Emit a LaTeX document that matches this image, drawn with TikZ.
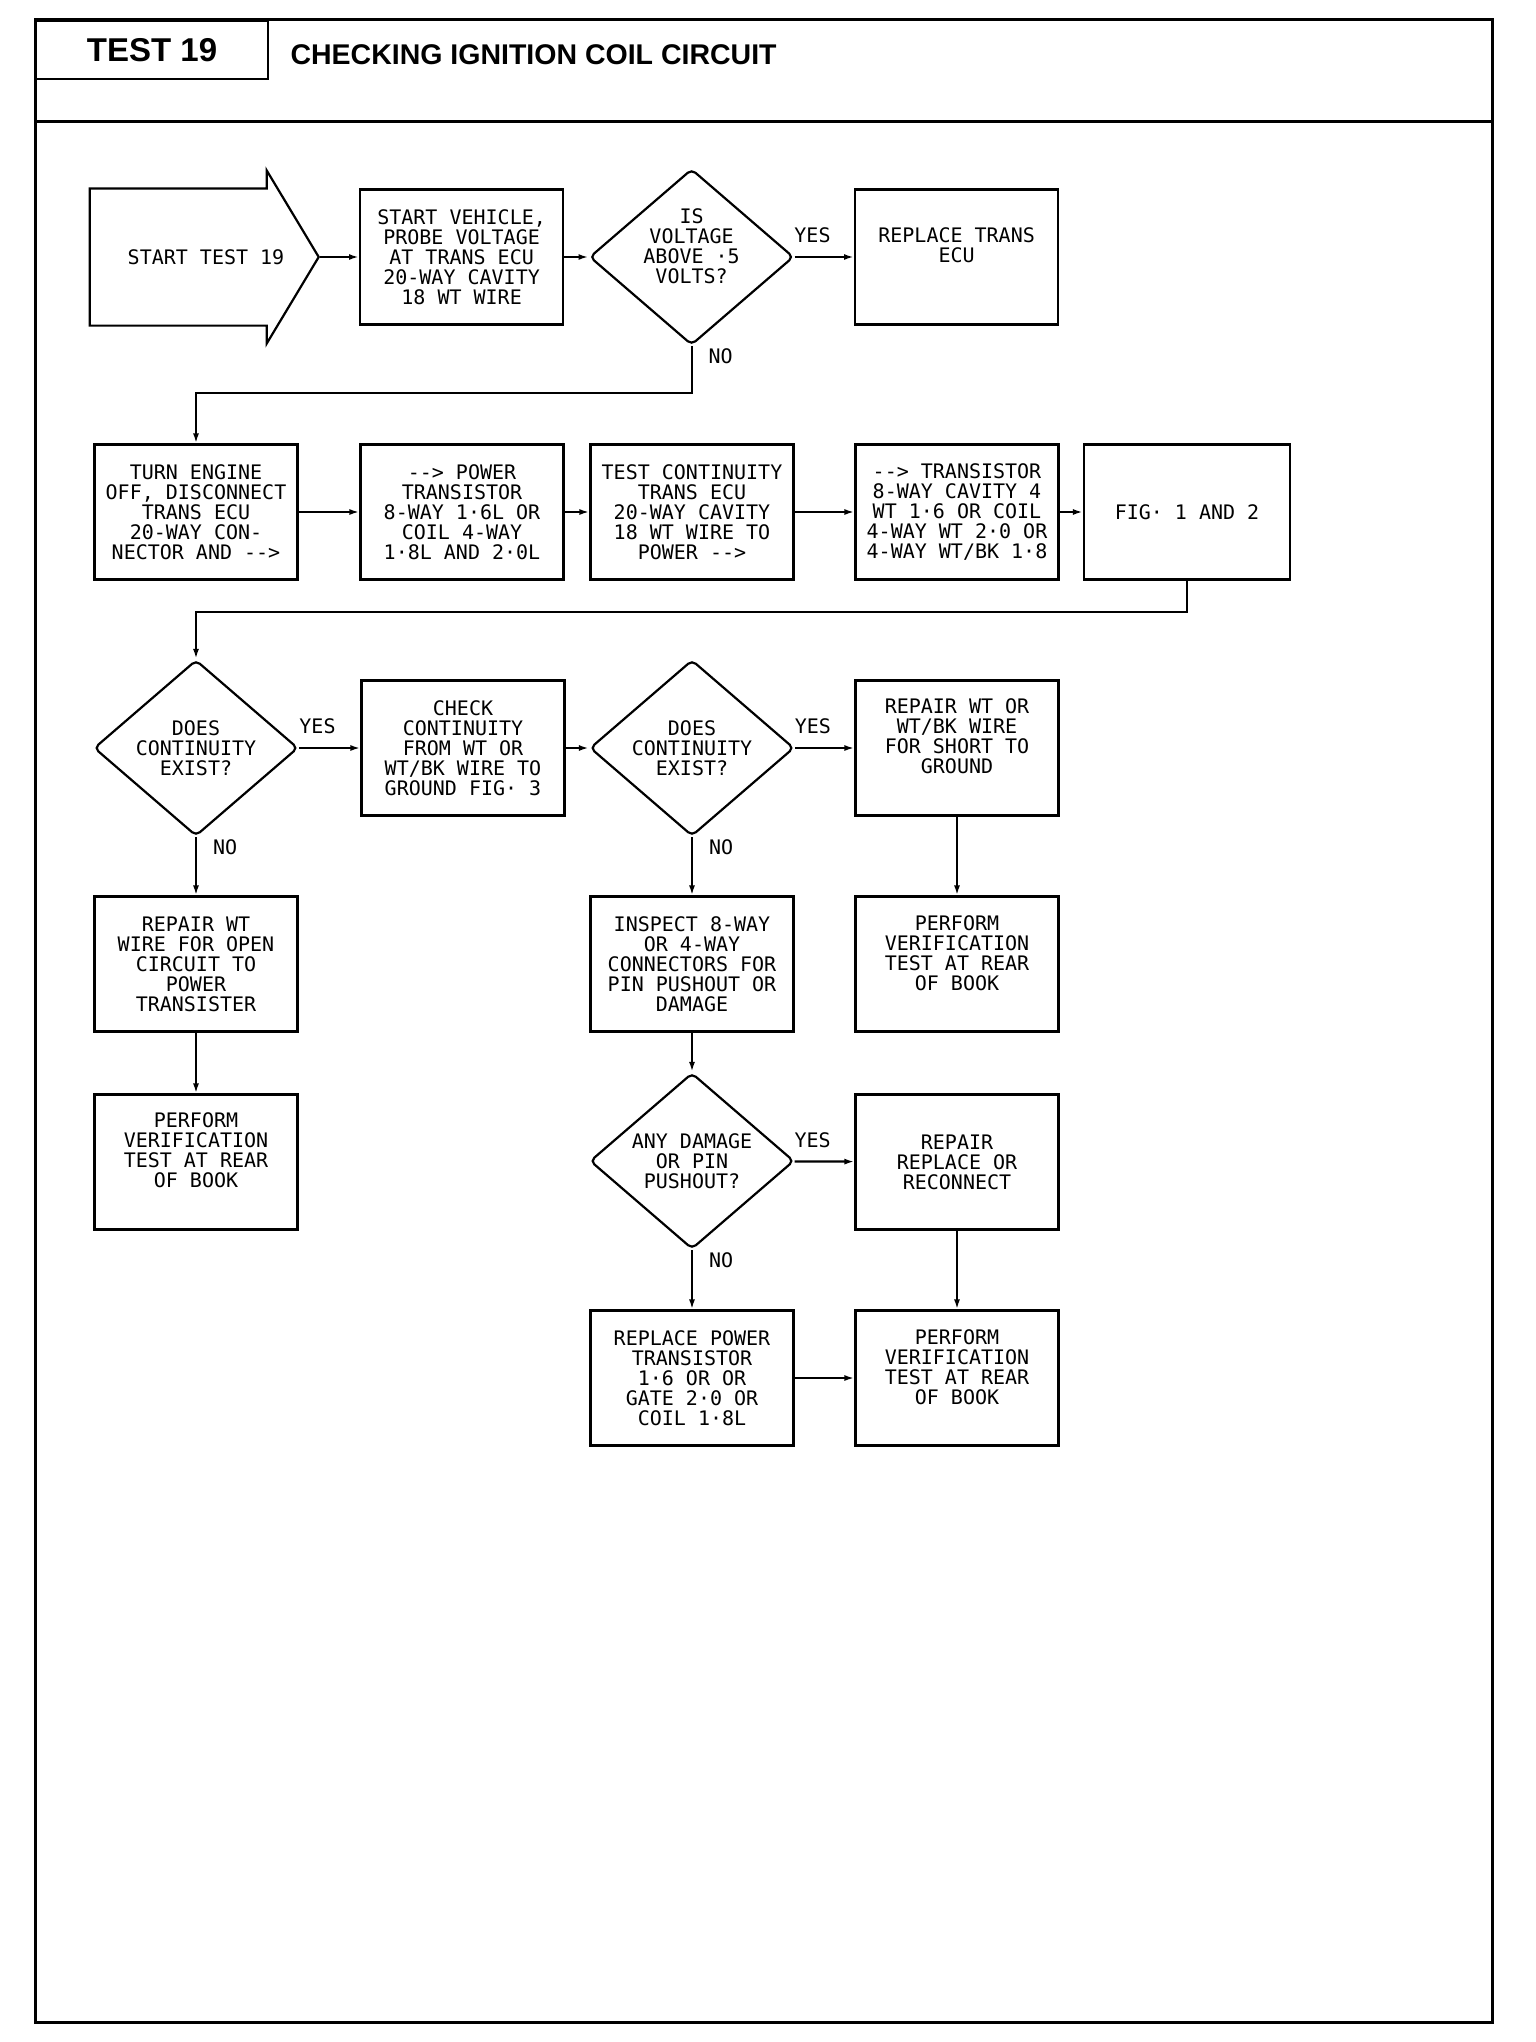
\documentclass[tikz,border=0pt]{standalone}
\usepackage{fontspec}
\newfontfamily\plotfont{DejaVu Sans Mono}
\newfontfamily\headfont{Liberation Sans}
\usetikzlibrary{arrows.meta, positioning, shapes.geometric, shapes.arrows}

\begin{document}
\begin{tikzpicture}[
    x=1pt, y=-1pt,
    on grid,
    font=\plotfont\fontsize{20}{20}\selectfont,
    % Styles for blocks and arrows
    box/.style={draw, rectangle, line width=2.2pt, minimum width=203pt, minimum height=135pt, align=center, inner sep=2pt},
    boxtext/.style={align=center, inner sep=0pt},
    decision/.style={draw, diamond, aspect=1.16, line width=2.2pt, minimum width=204pt, minimum height=176pt, inner sep=0pt, align=center, rounded corners=5pt},
    startarrow/.style={draw, single arrow, single arrow tip angle=118, single arrow head extend=18pt, minimum height=229pt, minimum width=172pt, inner xsep=0pt, inner ysep=67.5pt, line width=2.2pt},
    connector/.style={-{Latex[length=10pt, width=6pt]}, line width=2.2pt},
    lbl/.style={inner sep=1pt},
    frame/.style={line width=3pt}
]
    \useasboundingbox (0,0) rectangle (1536,2042);

    % --- HEADER ---
    \draw[frame] (35,20) rectangle (1492,2022);
    \draw[frame] (35,121) -- (1492,121);
    \node[draw, line width=2.2pt, anchor=north west, minimum width=232pt, minimum height=58pt,
          font=\headfont\bfseries\fontsize{33}{33}\selectfont] (testno) at (35,20) {TEST 19};
    \node[anchor=west, font=\headfont\bfseries\fontsize{28.5}{28.5}\selectfont] (title) at (287,55) {CHECKING IGNITION COIL CIRCUIT};

    % --- NODES ---
    % Row 1
    \node[startarrow, anchor=tip] (start) at (320,257) {};
    \node (starttext) at (206,257) {START TEST 19};
    \node[box, right=39pt of start.tip] (probe) {START VEHICLE,\\PROBE VOLTAGE\\AT TRANS ECU\\20-WAY CAVITY\\18 WT WIRE};
    \node[decision, right=230pt of probe] (volt) {};
    \node[boxtext, above=11pt of volt] (volttext) {IS\\VOLTAGE\\ABOVE ·5\\VOLTS?};
    \node[box, right=265pt of volt] (ecu) {};
    \node[boxtext, below=39pt of ecu.north] (ecutext) {REPLACE TRANS\\ECU};

    % Row 2
    \node[box] (off) at (196,512) {TURN ENGINE\\OFF, DISCONNECT\\TRANS ECU\\20-WAY CON-\\NECTOR AND -->};
    \node[box, right=266pt of off] (ptrans) {--> POWER\\TRANSISTOR\\8-WAY 1·6L OR\\COIL 4-WAY\\1·8L AND 2·0L};
    \node[box, right=230pt of ptrans] (cont) {TEST CONTINUITY\\TRANS ECU\\20-WAY CAVITY\\18 WT WIRE TO\\POWER -->};
    \node[box, right=265pt of cont] (trans) {--> TRANSISTOR\\8-WAY CAVITY 4\\WT 1·6 OR COIL\\4-WAY WT 2·0 OR\\4-WAY WT/BK 1·8};
    \node[box, right=230pt of trans, minimum width=206pt] (fig) {FIG· 1 AND 2};

    % Row 3
    \node[decision, below=236pt of off] (cont1) {DOES\\CONTINUITY\\EXIST?};
    \node[box, right=267pt of cont1] (ground) {CHECK\\CONTINUITY\\FROM WT OR\\WT/BK WIRE TO\\GROUND FIG· 3};
    \node[decision, right=229pt of ground] (cont2) {DOES\\CONTINUITY\\EXIST?};
    \node[box, right=265pt of cont2] (short) {};
    \node[boxtext, below=19pt of short.north] (shorttext) {REPAIR WT OR\\WT/BK WIRE\\FOR SHORT TO\\GROUND};

    % Row 4
    \node[box, below=216pt of cont1] (open) {REPAIR WT\\WIRE FOR OPEN\\CIRCUIT TO\\POWER\\TRANSISTER};
    \node[box, below=216pt of cont2] (inspect) {INSPECT 8-WAY\\OR 4-WAY\\CONNECTORS FOR\\PIN PUSHOUT OR\\DAMAGE};
    \node[box, below=216pt of short] (verify1) {};
    \node[boxtext, below=20pt of verify1.north] (verify1text) {PERFORM\\VERIFICATION\\TEST AT REAR\\OF BOOK};

    % Row 5
    \node[box, below=198pt of open] (verify0) {};
    \node[boxtext, below=19pt of verify0.north] (verify0text) {PERFORM\\VERIFICATION\\TEST AT REAR\\OF BOOK};
    \node[decision, below=197pt of inspect] (damage) {ANY DAMAGE\\OR PIN\\PUSHOUT?};
    \node[box, below=198pt of verify1] (repair) {REPAIR\\REPLACE OR\\RECONNECT};

    % Row 6
    \node[box, below=217pt of damage] (newtrans) {REPLACE POWER\\TRANSISTOR\\1·6 OR OR\\GATE 2·0 OR\\COIL 1·8L};
    \node[box, below=216pt of repair] (verify2) {};
    \node[boxtext, below=20pt of verify2.north] (verify2text) {PERFORM\\VERIFICATION\\TEST AT REAR\\OF BOOK};

    % --- CONNECTIONS ---
    \draw[connector] (start.tip) -- (probe);
    \draw[connector] (probe) -- (volt);
    \draw[connector] (volt) -- (ecu) node[lbl, pos=0.3, above=12pt] {YES};
    \draw[connector] (volt.south) node[lbl, anchor=north west, xshift=15pt] {NO} -- ++(0,47) -| (off.north);

    \draw[connector] (off) -- (ptrans);
    \draw[connector] (ptrans) -- (cont);
    \draw[connector] (cont) -- (trans);
    \draw[connector] (trans) -- (fig);
    \draw[connector] (fig.south) -- ++(0,31) -| (cont1.north);

    \draw[connector] (cont1) -- (ground) node[lbl, pos=0.3, above=12pt] {YES};
    \draw[connector] (ground) -- (cont2);
    \draw[connector] (cont2) -- (short) node[lbl, pos=0.3, above=12pt] {YES};
    \draw[connector] (cont1.south) node[lbl, anchor=north west, xshift=15pt] {NO} -- (open);
    \draw[connector] (cont2.south) node[lbl, anchor=north west, xshift=15pt] {NO} -- (inspect);
    \draw[connector] (short) -- (verify1);

    \draw[connector] (open) -- (verify0);
    \draw[connector] (inspect) -- (damage);
    \draw[connector] (damage) -- (repair) node[lbl, pos=0.3, above=12pt] {YES};
    \draw[connector] (damage.south) node[lbl, anchor=north west, xshift=15pt] {NO} -- (newtrans);
    \draw[connector] (repair) -- (verify2);
    \draw[connector] (newtrans) -- (verify2);

\end{tikzpicture}
\end{document}
